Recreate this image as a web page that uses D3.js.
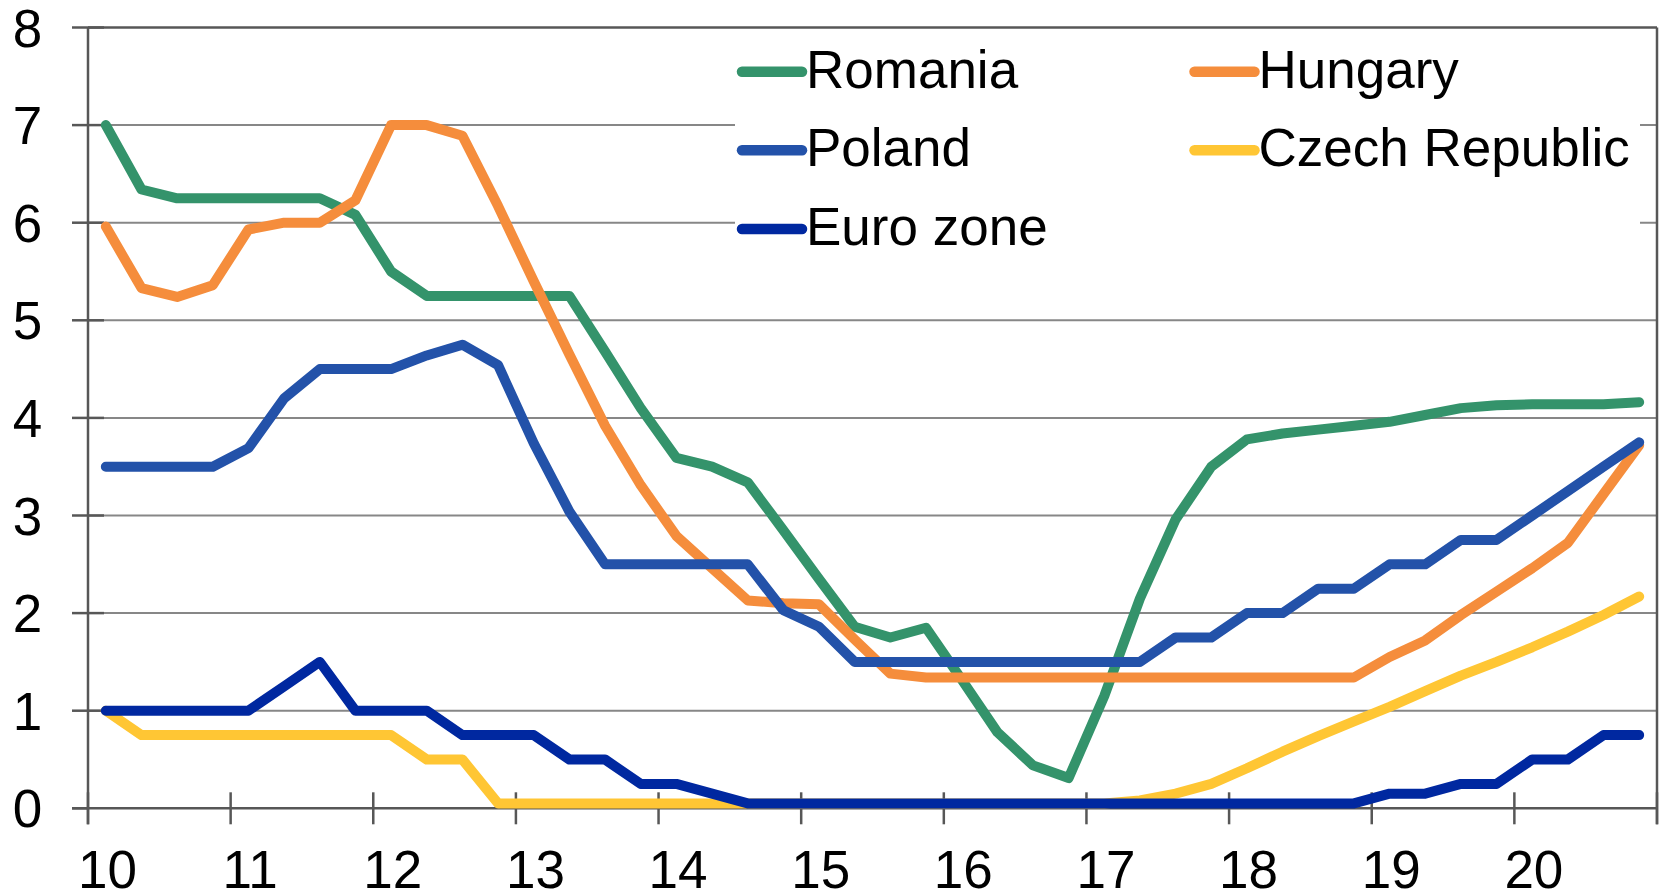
<!DOCTYPE html>
<html>
<head>
<meta charset="utf-8">
<script src="https://cdn.jsdelivr.net/npm/d3@7"></script>
<style>
  body { margin: 0; background: #fff; }
  text { font-family: "Liberation Sans", Arial, sans-serif; fill: #000; }
</style>
</head>
<body>
<script>
// quarterly observations, 2010Q1 .. 2020Q4
const quarters = [
  "2010Q1","2010Q2","2010Q3","2010Q4","2011Q1","2011Q2","2011Q3","2011Q4",
  "2012Q1","2012Q2","2012Q3","2012Q4","2013Q1","2013Q2","2013Q3","2013Q4",
  "2014Q1","2014Q2","2014Q3","2014Q4","2015Q1","2015Q2","2015Q3","2015Q4",
  "2016Q1","2016Q2","2016Q3","2016Q4","2017Q1","2017Q2","2017Q3","2017Q4",
  "2018Q1","2018Q2","2018Q3","2018Q4","2019Q1","2019Q2","2019Q3","2019Q4",
  "2020Q1","2020Q2","2020Q3","2020Q4"
];
const yearTicks = [2010, 2011, 2012, 2013, 2014, 2015, 2016, 2017, 2018, 2019, 2020, 2021];
const yearLabels = ["10", "11", "12", "13", "14", "15", "16", "17", "18", "19", "20"];
const yTicks = [0, 1, 2, 3, 4, 5, 6, 7, 8];

const romania = [7.0, 6.34, 6.25, 6.25, 6.25, 6.25, 6.25, 6.08, 5.5, 5.25, 5.25, 5.25,
  5.25, 5.25, 4.68, 4.1, 3.59, 3.5, 3.34, 2.85, 2.35, 1.86, 1.75, 1.85,
  1.32, 0.78, 0.44, 0.31, 1.15, 2.15, 2.96, 3.5, 3.78, 3.84, 3.88, 3.92,
  3.96, 4.03, 4.1, 4.13, 4.14, 4.14, 4.14, 4.16];
const hungary = [5.96, 5.33, 5.24, 5.36, 5.93, 6.0, 6.0, 6.23, 7.0, 7.0, 6.89, 6.17,
  5.4, 4.65, 3.92, 3.31, 2.79, 2.46, 2.13, 2.1, 2.09, 1.73, 1.38, 1.34,
  1.34, 1.34, 1.34, 1.34, 1.34, 1.34, 1.34, 1.34, 1.34, 1.34, 1.34, 1.34,
  1.55, 1.72, 1.98, 2.22, 2.46, 2.72, 3.22, 3.72];
const poland = [3.5, 3.5, 3.5, 3.5, 3.69, 4.2, 4.5, 4.5, 4.5, 4.64, 4.75, 4.54,
  3.74, 3.04, 2.5, 2.5, 2.5, 2.5, 2.5, 2.03, 1.86, 1.5, 1.5, 1.5,
  1.5, 1.5, 1.5, 1.5, 1.5, 1.5, 1.75, 1.75, 2.0, 2.0, 2.25, 2.25,
  2.5, 2.5, 2.75, 2.75, 3.0, 3.25, 3.5, 3.75];
const czech = [1.0, 0.75, 0.75, 0.75, 0.75, 0.75, 0.75, 0.75, 0.75, 0.5, 0.5, 0.05,
  0.05, 0.05, 0.05, 0.05, 0.05, 0.05, 0.05, 0.05, 0.05, 0.05, 0.05, 0.05,
  0.05, 0.05, 0.05, 0.05, 0.05, 0.08, 0.15, 0.25, 0.41, 0.58, 0.74, 0.89,
  1.04, 1.2, 1.36, 1.5, 1.65, 1.81, 1.98, 2.17];
const eurozone = [1.0, 1.0, 1.0, 1.0, 1.0, 1.25, 1.5, 1.0, 1.0, 1.0, 0.75, 0.75,
  0.75, 0.5, 0.5, 0.25, 0.25, 0.15, 0.05, 0.05, 0.05, 0.05, 0.05, 0.05,
  0.05, 0.05, 0.05, 0.05, 0.05, 0.05, 0.05, 0.05, 0.05, 0.05, 0.05, 0.05,
  0.15, 0.15, 0.25, 0.25, 0.5, 0.5, 0.75, 0.75];

const seriesNames = ["Romania", "Hungary", "Poland", "Czech Republic", "Euro zone"];
const seriesValues = [romania, hungary, poland, czech, eurozone];
const seriesColors = ["#34936b", "#f58d3c", "#2352a9", "#ffc634", "#0028a0"];

let width = 1659, height = 896;
let plot = {left: 88, right: 1657, top: 27.5, bottom: 808.3};

let svg = d3.select("body").append("svg")
    .attr("width", width)
    .attr("height", height);

let x = d3.scaleLinear().domain([2010, 2021]).range([plot.left, plot.right]);
let y = d3.scaleLinear().domain([0, 8]).range([plot.bottom, plot.top]);

function qPos(q) {
    // mid point of the quarter
    return +q.slice(0, 4) + (+q.slice(5) - 0.5) / 4;
}

// gridlines
svg.append("g").selectAll("line")
    .data(yTicks.filter(d => d > 0 && d < 8)).enter().append("line")
    .attr("x1", plot.left).attr("x2", plot.right)
    .attr("y1", d => y(d)).attr("y2", d => y(d))
    .attr("stroke", "#878787").attr("stroke-width", 2);

let axisColor = "#575757";
// frame: top + right
svg.append("line").attr("x1", plot.left).attr("x2", plot.right)
    .attr("y1", y(8)).attr("y2", y(8))
    .attr("stroke", axisColor).attr("stroke-width", 2.5);
svg.append("line").attr("x1", plot.right).attr("x2", plot.right)
    .attr("y1", y(8)).attr("y2", plot.bottom + 16)
    .attr("stroke", axisColor).attr("stroke-width", 2.5);

// y axis
svg.append("line").attr("x1", plot.left).attr("x2", plot.left)
    .attr("y1", y(8)).attr("y2", plot.bottom + 16)
    .attr("stroke", axisColor).attr("stroke-width", 2.5);
svg.append("g").selectAll("line")
    .data(yTicks).enter().append("line")
    .attr("x1", plot.left - 16).attr("x2", d => d === 0 ? plot.left : plot.left + 16)
    .attr("y1", d => y(d)).attr("y2", d => y(d))
    .attr("stroke", axisColor).attr("stroke-width", 2.5);
svg.append("g").selectAll("text")
    .data(yTicks).enter().append("text")
    .attr("x", 27.5)
    .attr("y", d => y(d) + 19)
    .attr("text-anchor", "middle")
    .style("font-size", "53px")
    .text(d => d);

// x axis
svg.append("line").attr("x1", plot.left - 16).attr("x2", plot.right)
    .attr("y1", plot.bottom).attr("y2", plot.bottom)
    .attr("stroke", axisColor).attr("stroke-width", 2.5);
svg.append("g").selectAll("line")
    .data(yearTicks).enter().append("line")
    .attr("x1", d => x(d)).attr("x2", d => x(d))
    .attr("y1", plot.bottom - 16).attr("y2", plot.bottom + 16)
    .attr("stroke", axisColor).attr("stroke-width", 2.5);
svg.append("g").selectAll("text")
    .data(yearLabels).enter().append("text")
    .attr("x", (d, i) => x(yearTicks[i]) + 19.5)
    .attr("y", 888)
    .attr("text-anchor", "middle")
    .style("font-size", "53px")
    .text(d => d);

// series
let line = d3.line()
    .x((d, i) => x(qPos(quarters[i])))
    .y(d => y(d));

svg.append("g").selectAll("path")
    .data(seriesValues).enter().append("path")
    .attr("d", d => line(d))
    .attr("fill", "none")
    .attr("stroke", (d, i) => seriesColors[i])
    .attr("stroke-width", 10)
    .attr("stroke-linejoin", "round")
    .attr("stroke-linecap", "round");

// legend
svg.append("rect")
    .attr("x", 735).attr("y", 30)
    .attr("width", 905).attr("height", 235)
    .attr("fill", "#fff");

let legendCols = [742, 1194.5];
let legendRows = [71.7, 150.3, 229];
let legend = svg.append("g").selectAll("g")
    .data(seriesNames).enter().append("g")
    .attr("transform", (d, i) => "translate(" + legendCols[i % 2] + "," + legendRows[Math.floor(i / 2)] + ")");
legend.append("line")
    .attr("x1", 0).attr("x2", 60)
    .attr("y1", 0).attr("y2", 0)
    .attr("stroke", (d, i) => seriesColors[i])
    .attr("stroke-width", 10.5)
    .attr("stroke-linecap", "round");
legend.append("text")
    .attr("x", 64)
    .attr("y", 16)
    .style("font-size", "53px")
    .text(d => d);
</script>
</body>
</html>
